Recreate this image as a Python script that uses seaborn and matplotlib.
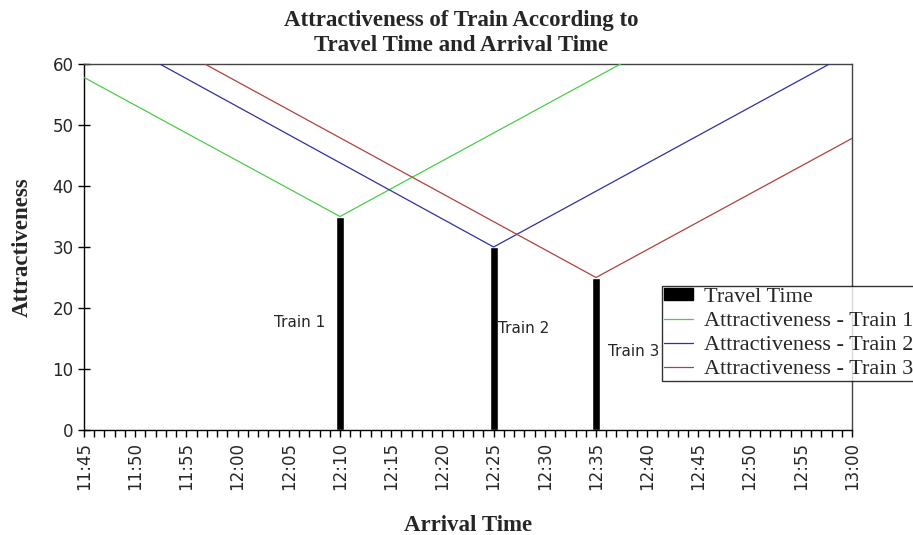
import matplotlib
matplotlib.use("Agg")
import matplotlib.pyplot as plt
import seaborn as sns
import pandas as pd
from matplotlib.patches import Rectangle
from matplotlib.lines import Line2D
from matplotlib.ticker import MultipleLocator

# x positions are minutes after 11:45
tick_labels = ["11:45", "11:50", "11:55", "12:00", "12:05", "12:10", "12:15",
               "12:20", "12:25", "12:30", "12:35", "12:40", "12:45", "12:50",
               "12:55", "13:00"]
train_names = ["Train 1", "Train 2", "Train 3"]
train_minutes = [25, 40, 50]          # 12:10, 12:25, 12:35
travel_time = [35, 30, 25]

green_x = [0, 25, 52.4]
green_y = [57.8, 35, 60]
blue_x = [7.4, 40, 72.8]
blue_y = [60, 30, 60]
red_x = [11.8, 50, 75]
red_y = [60, 25, 47.8]

label_y = [17.7, 16.6, 12.8]

GREEN, BLUE, RED = "#4ccc4c", "#3030a0", "#b04040"

sns.set_style("white")
fig = plt.figure(figsize=(9.13, 5.35), dpi=100)
ax = fig.add_axes([84/913, 1-430/535, (852-84)/913, (430-64)/535])

ax.bar(train_minutes, travel_time, width=0.8, color="black", zorder=2)
sns.lineplot(x=green_x, y=green_y, ax=ax, color=GREEN, linewidth=0.9, zorder=3)
sns.lineplot(x=blue_x, y=blue_y, ax=ax, color=BLUE, linewidth=0.9, zorder=3)
sns.lineplot(x=red_x, y=red_y, ax=ax, color=RED, linewidth=0.9, zorder=3)

ax.text(train_minutes[0] - 1.4, label_y[0], train_names[0], ha="right", va="center",
        fontsize=11, family="DejaVu Sans")
ax.text(train_minutes[1] + 0.4, label_y[1], train_names[1], ha="left", va="center",
        fontsize=11, family="DejaVu Sans")
ax.text(train_minutes[2] + 1.2, label_y[2], train_names[2], ha="left", va="center",
        fontsize=11, family="DejaVu Sans")

ax.set_xlim(0, 75)
ax.set_ylim(0, 60)
ax.set_xticks(range(0, 76, 5))
ax.set_xticklabels(tick_labels, rotation=90, fontsize=12, family="DejaVu Sans")
ax.xaxis.set_minor_locator(MultipleLocator(1))
ax.set_yticks(range(0, 61, 10))
ax.set_yticklabels([str(v) for v in range(0, 61, 10)], fontsize=12, family="DejaVu Sans")
ax.tick_params(axis="x", which="both", direction="out", length=5, width=1, color="black", bottom=True)
ax.tick_params(axis="y", which="major", direction="inout", length=8, width=1, color="black", left=True)

for s in ax.spines.values():
    s.set_color("black")
    s.set_linewidth(1)
for s in ["top", "right"]:
    ax.spines[s].set_color("#444444")

ax.set_xlabel("Arrival Time", family="Liberation Serif", fontweight="bold", fontsize=16.5, labelpad=18)
ax.set_ylabel("Attractiveness", family="Liberation Serif", fontweight="bold", fontsize=16.5, labelpad=14)
fig.text(461/913, 1-33/535, "Attractiveness of Train According to\nTravel Time and Arrival Time",
         ha="center", va="center", family="Liberation Serif", fontweight="bold", fontsize=16.5,
         linespacing=1.25)

handles = [Rectangle((0, 0), 1, 1, color="black"),
           Line2D([], [], color=GREEN, lw=0.9),
           Line2D([], [], color=BLUE, lw=0.9),
           Line2D([], [], color=RED, lw=0.9)]
labels = ["Travel Time", "Attractiveness - Train 1", "Attractiveness - Train 2",
          "Attractiveness - Train 3"]
leg = fig.legend(handles, labels, loc="upper left", bbox_to_anchor=(662/913, 1-286/535),
                 prop={"family": "Liberation Serif", "size": 16}, frameon=True, fancybox=False,
                 borderpad=0.1, labelspacing=0.22, handlelength=1.3, handleheight=0.45,
                 handletextpad=0.5, borderaxespad=0)
leg.get_frame().set_edgecolor("black")
leg.get_frame().set_linewidth(1)

fig.savefig("out.png", dpi=100)
